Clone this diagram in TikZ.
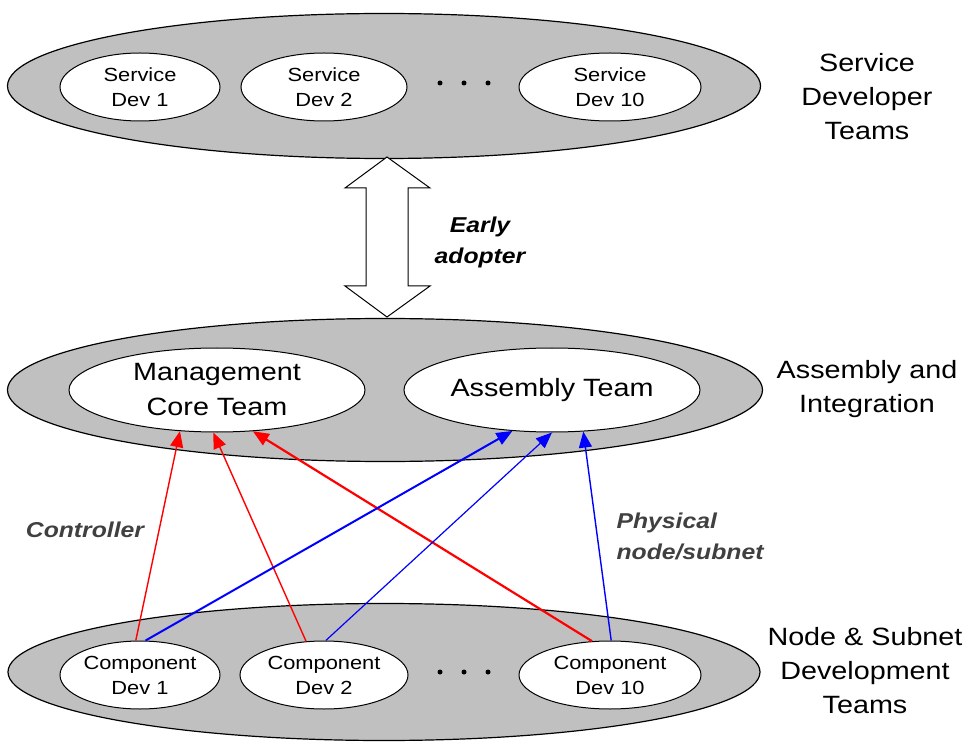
\documentclass[tikz,border=0pt]{standalone}
\usepackage{fontspec}
\setmainfont{Liberation Sans}[FakeStretch=1.15]
\usetikzlibrary{arrows.meta,shapes.geometric}
\definecolor{shell}{RGB}{192,192,192}
\definecolor{lbl}{RGB}{64,64,64}
\begin{document}
\begin{tikzpicture}[x=1pt,y=-1pt,
  bigell/.style={ellipse, draw, fill=shell, line width=1.2pt, inner sep=0},
  smallell/.style={ellipse, draw, fill=white, line width=1pt, inner sep=0, align=center,
     minimum height=68, font=\fontsize{19}{25}\selectfont},
  midell/.style={ellipse, draw, fill=white, line width=1pt, inner sep=0, align=center,
     minimum width=296, minimum height=84, font=\fontsize{25}{35}\selectfont},
  grouplbl/.style={align=center, font=\fontsize{25}{34}\selectfont},
  linklbl/.style={align=center, text=lbl, font=\bfseries\itshape\fontsize{21.5}{31}\selectfont},
  dotc/.style={circle, fill=black, inner sep=0, minimum size=5},
  redarr/.style={draw=red, line width=1.4pt, -{Triangle[length=16pt,width=13pt]}, red},
  bluearr/.style={draw=blue, line width=1.4pt, -{Triangle[length=16pt,width=13pt]}, blue}]
\useasboundingbox (0,0) rectangle (964,743);

% top group
\node[bigell, minimum width=753, minimum height=145] (T) at (384,86) {};
\node[smallell, minimum width=160] (s1) at (140,87) {Service\\Dev 1};
\node[smallell, minimum width=166] (s2) at (324,87) {Service\\Dev 2};
\node[smallell, minimum width=182] (s10) at (610,87) {Service\\Dev 10};
\node[dotc] (td1) at (440,83) {};
\node[dotc] (td2) at (464,83) {};
\node[dotc] (td3) at (488,83) {};
\node[grouplbl] (tl) at (867,97) {Service\\Developer\\Teams};

% middle group
\node[bigell, minimum width=755, minimum height=143] (M) at (385,390) {};
\node[midell] (m) at (217,390) {Management\\Core Team};
\node[midell] (a) at (552,390) {Assembly Team};
\node[grouplbl] (ml) at (867,389) {Assembly and\\Integration};

% bottom group
\node[bigell, minimum width=752, minimum height=137] (B) at (384,672) {};
\node[smallell, minimum width=160] (c1) at (140,675) {Component\\Dev 1};
\node[smallell, minimum width=168] (c2) at (324,675) {Component\\Dev 2};
\node[smallell, minimum width=182] (c10) at (610,675) {Component\\Dev 10};
\node[dotc] (bd1) at (440,672) {};
\node[dotc] (bd2) at (464,672) {};
\node[dotc] (bd3) at (488,672) {};
\node[grouplbl] (bl) at (865,671) {Node \& Subnet\\Development\\Teams};

% early adopter double arrow
\draw[fill=white, line width=1pt, line join=miter]
  (387,157) -- (430,188) -- (408,188) -- (408,286) -- (430,286) -- (387,317)
  -- (345,286) -- (366,286) -- (366,188) -- (345,188) -- cycle;
\node[linklbl, text=black] (ea) at (480,242) {Early\\adopter};

% links
\draw[redarr] (c1.97) -- (m.-132);
\draw[redarr] (c2.118) -- (m.-95);
\draw[redarr, line width=2.2pt] (c10.118) -- (m.-49);
\draw[bluearr, line width=2pt] (c1.81) -- (a.-134);
\draw[bluearr, line width=1.2pt] (c2.87) -- (a.-90);
\draw[bluearr] (c10.88) -- (a.-53);

\node[linklbl] (ctl) at (85,530) {Controller};
\node[linklbl, align=left, anchor=west] (phy) at (613,536) {Physical\\node/subnet};
\end{tikzpicture}
\end{document}
